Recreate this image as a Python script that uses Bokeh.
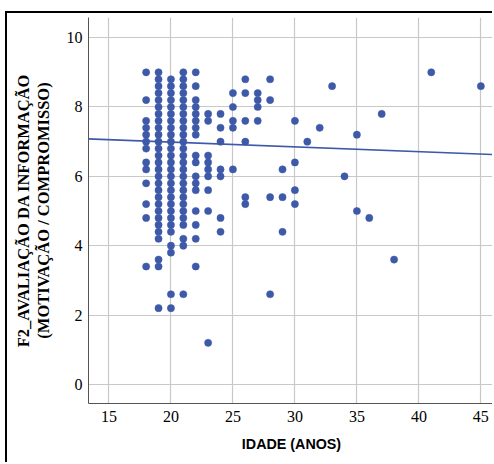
from bokeh.plotting import figure
from bokeh.models import Slope, ColumnDataSource, FixedTicker, Range1d
from bokeh.embed import file_html
from bokeh.resources import INLINE

# ---- data ----
age_18 = [9.0, 8.2, 7.6, 7.4, 7.2, 7.0, 6.8, 6.4, 6.2, 5.8, 5.2, 4.8, 3.4]
age_19 = [9.0, 8.8, 8.6, 8.4, 8.2, 8.0, 7.8, 7.6, 7.4, 7.2, 7.0, 6.8, 6.6, 6.4, 6.2,
          6.0, 5.8, 5.6, 5.4, 5.2, 5.0, 4.8, 4.6, 4.4, 4.2, 3.6, 3.4, 2.2]
age_20 = [8.8, 8.6, 8.4, 8.2, 8.0, 7.8, 7.6, 7.4, 7.2, 7.0, 6.8, 6.6, 6.4, 6.2,
          6.0, 5.8, 5.6, 5.4, 5.2, 5.0, 4.8, 4.6, 4.4, 4.0, 3.8, 2.6, 2.2]
age_21 = [9.0, 8.8, 8.6, 8.4, 8.2, 8.0, 7.8, 7.6, 7.4, 7.2, 7.0, 6.8, 6.6, 6.4, 6.2,
          6.0, 5.8, 5.6, 5.4, 5.2, 5.0, 4.8, 4.6, 4.2, 4.0, 2.6]
age_22 = [9.0, 8.6, 8.2, 8.0, 7.8, 7.6, 7.4, 7.2, 6.6, 6.4, 6.0, 5.8, 5.6, 5.0, 4.6, 4.2, 3.4]
age_23 = [7.8, 7.6, 6.6, 6.4, 6.2, 6.0, 5.6, 5.0, 1.2]
age_24 = [7.8, 7.4, 7.0, 6.2, 6.0, 4.8, 4.4]
age_25 = [8.4, 8.0, 7.6, 7.4, 6.2]
age_26 = [8.8, 8.4, 7.6, 7.0, 5.4, 5.2]
age_27 = [8.4, 8.2, 8.0, 7.6]
age_28 = [8.8, 8.2, 5.4, 2.6]
age_29 = [6.2, 5.4, 4.4]
age_30 = [7.6, 6.4, 5.6, 5.2]
other_ages = [31, 32, 33, 34, 35, 35, 36, 37, 38, 41, 45]
other_scores = [7.0, 7.4, 8.6, 6.0, 7.2, 5.0, 4.8, 7.8, 3.6, 9.0, 8.6]

# fit line
fit_intercept = 7.265
fit_slope = -0.0138

x_ticks = [15, 20, 25, 30, 35, 40, 45]
y_ticks = [0, 2, 4, 6, 8, 10]

groups = [(18, age_18), (19, age_19), (20, age_20), (21, age_21), (22, age_22),
          (23, age_23), (24, age_24), (25, age_25), (26, age_26), (27, age_27),
          (28, age_28), (29, age_29), (30, age_30)]
xs, ys = [], []
for a, vals in groups:
    xs += [a] * len(vals)
    ys += vals
xs += other_ages
ys += other_scores

BLUE = "#3d59a8"
SERIF = "Liberation Serif"

# canvas sits inside a black left/top frame (CSS border), starting at (7, 13)
p = figure(width=487, height=451, output_backend="svg", toolbar_location=None,
           x_range=Range1d(13.35, 46.1), y_range=Range1d(-0.55, 10.58),
           min_border_left=81, min_border_right=0, min_border_top=4, min_border_bottom=61)
p.styles = {"border-left": "2px solid black", "border-top": "2px solid black",
            "border-right": "none", "border-bottom": "none",
            "outline": "none", "box-shadow": "none",
            "margin-left": "5px", "margin-top": "11px"}
p.outline_line_color = None
p.background_fill_color = "white"
p.border_fill_color = "white"

src = ColumnDataSource(dict(x=xs, y=ys))
p.scatter("x", "y", source=src, size=7.2, fill_color=BLUE, line_color=BLUE, line_width=0.5)

p.add_layout(Slope(gradient=fit_slope, y_intercept=fit_intercept,
                   line_color=BLUE, line_width=1.6))

for ax in (p.xaxis[0], p.yaxis[0]):
    ax.major_tick_out = 0
    ax.major_tick_in = 0
    ax.minor_tick_out = 0
    ax.minor_tick_in = 0
    ax.axis_line_color = "#555555"
    ax.axis_line_width = 1
    ax.major_label_text_font = SERIF
    ax.major_label_text_font_size = "16px"
    ax.major_label_text_color = "black"

p.xaxis[0].ticker = FixedTicker(ticks=x_ticks)
p.yaxis[0].ticker = FixedTicker(ticks=y_ticks)
p.xaxis[0].major_label_standoff = 7
p.yaxis[0].major_label_standoff = 6

p.xaxis[0].axis_label = "IDADE (ANOS)"
p.xaxis[0].axis_label_text_font = "Liberation Sans"
p.xaxis[0].axis_label_text_font_size = "14.3px"
p.xaxis[0].axis_label_text_font_style = "bold"
p.xaxis[0].axis_label_text_color = "black"
p.xaxis[0].axis_label_standoff = 11

p.yaxis[0].axis_label = "F2_AVALIAÇÃO DA INFORMAÇÃO\n(MOTIVAÇÃO / COMPROMISSO)"
p.yaxis[0].axis_label_text_font = SERIF
p.yaxis[0].axis_label_text_font_size = "16.5px"
p.yaxis[0].axis_label_text_font_style = "bold"
p.yaxis[0].axis_label_text_color = "black"
p.yaxis[0].axis_label_standoff = 11
p.yaxis[0].axis_label_text_line_height = 1.05

p.xgrid[0].ticker = FixedTicker(ticks=x_ticks)
p.ygrid[0].ticker = FixedTicker(ticks=y_ticks)
for g in (p.xgrid[0], p.ygrid[0]):
    g.grid_line_color = "#c8c8c8"
    g.grid_line_width = 1.2

open("out.html", "w").write(file_html(p, INLINE))
